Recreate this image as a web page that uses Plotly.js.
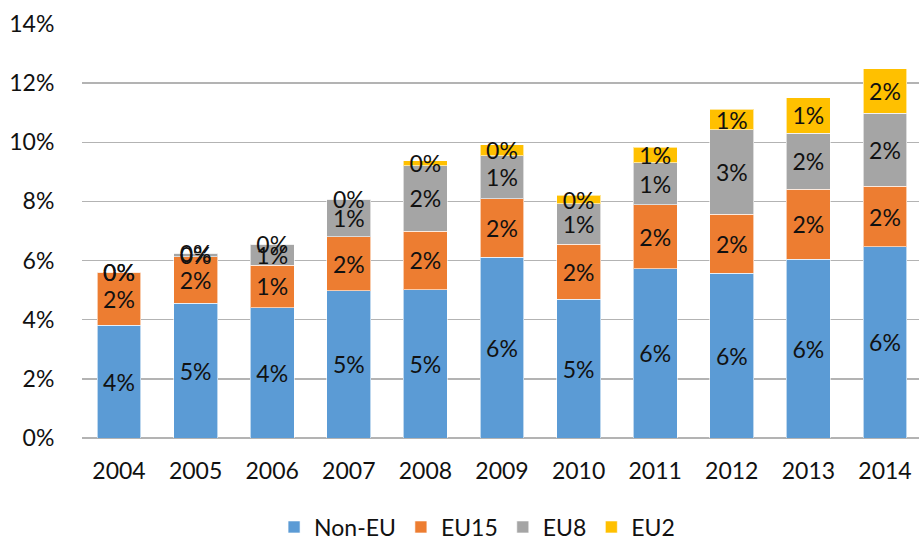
<!DOCTYPE html>
<html>
<head>
<meta charset="utf-8">
<script src="https://cdn.plot.ly/plotly-3.0.1.min.js"></script>
<style>
html,body{margin:0;padding:0;background:#fff;}
#chart{width:919px;height:542px;}
</style>
</head>
<body>
<div id="chart"></div>
<script>
// Years (categories)
var years = ['2004','2005','2006','2007','2008','2009','2010','2011','2012','2013','2014'];
// Share values (fractions) per group
var nonEU = [0.0381, 0.0456, 0.0440, 0.0498, 0.0502, 0.0611, 0.0470, 0.0573, 0.0557, 0.0604, 0.0646];
var eu15  = [0.0179, 0.0157, 0.0145, 0.0182, 0.0198, 0.0198, 0.0185, 0.0216, 0.0199, 0.0237, 0.0206];
var eu8   = [0.0002, 0.0011, 0.0071, 0.0127, 0.0221, 0.0146, 0.0137, 0.0142, 0.0286, 0.0190, 0.0246];
var eu2   = [0.0001, 0.0001, 0.0001, 0.0001, 0.0016, 0.0036, 0.0029, 0.0052, 0.0070, 0.0120, 0.0151];
var seriesNames = ['Non-EU','EU15','EU8','EU2'];
var seriesColors = ['#5B9BD5','#ED7D31','#A5A5A5','#FFC000'];
var yTicks = [0, 0.02, 0.04, 0.06, 0.08, 0.10, 0.12, 0.14];

var FONT = 'Lato, "Open Sans", sans-serif';
var FS = 23;
var data = [nonEU, eu15, eu8, eu2].map(function(vals, i){
  return {
    type: 'bar',
    name: seriesNames[i],
    x: years,
    y: vals,
    marker: {color: seriesColors[i], line: {color: 'rgba(255,255,255,0.6)', width: 1}},
    texttemplate: '%{y:.0%}',
    textposition: 'inside',
    insidetextanchor: 'middle',
    constraintext: 'none',
    textangle: 0,
    textfont: {family: FONT, size: FS, color: '#111'},
    hoverinfo: 'skip',
    cliponaxis: false
  };
});

var layout = {
  width: 919, height: 542,
  margin: {l: 82, r: 0, t: 24, b: 104, autoexpand: false},
  barmode: 'stack',
  bargap: 0.426,
  paper_bgcolor: '#fff',
  plot_bgcolor: '#fff',
  font: {family: FONT, size: FS, color: '#111'},
  xaxis: {
    type: 'category',
    range: [-0.483, 10.444],
    showgrid: false,
    showline: false,
    zeroline: false,
    automargin: false,
    ticks: 'outside', ticklen: 12, tickcolor: 'rgba(0,0,0,0)',
    tickfont: {family: FONT, size: FS, color: '#111'},
    fixedrange: true
  },
  yaxis: {
    range: [0, 0.14],
    tickvals: yTicks,
    tickformat: '.0%',
    showgrid: true,
    gridcolor: '#b3b3b3',
    gridwidth: 1.3,
    zeroline: true,
    zerolinecolor: '#b3b3b3',
    zerolinewidth: 1.3,
    showline: false,
    automargin: false,
    ticks: 'outside', ticklen: 22, tickcolor: 'rgba(0,0,0,0)',
    tickfont: {family: FONT, size: FS, color: '#111'},
    fixedrange: true
  },
  legend: {
    orientation: 'h',
    x: 0.472, xanchor: 'center',
    y: -0.215, yanchor: 'middle',
    font: {family: FONT, size: FS, color: '#111'},
    traceorder: 'normal',
    borderwidth: 0,
    bgcolor: 'rgba(0,0,0,0)',
    itemclick: false
  },
  showlegend: true
};

Plotly.newPlot('chart', data, layout, {displayModeBar: false, staticPlot: true});
</script>
</body>
</html>
